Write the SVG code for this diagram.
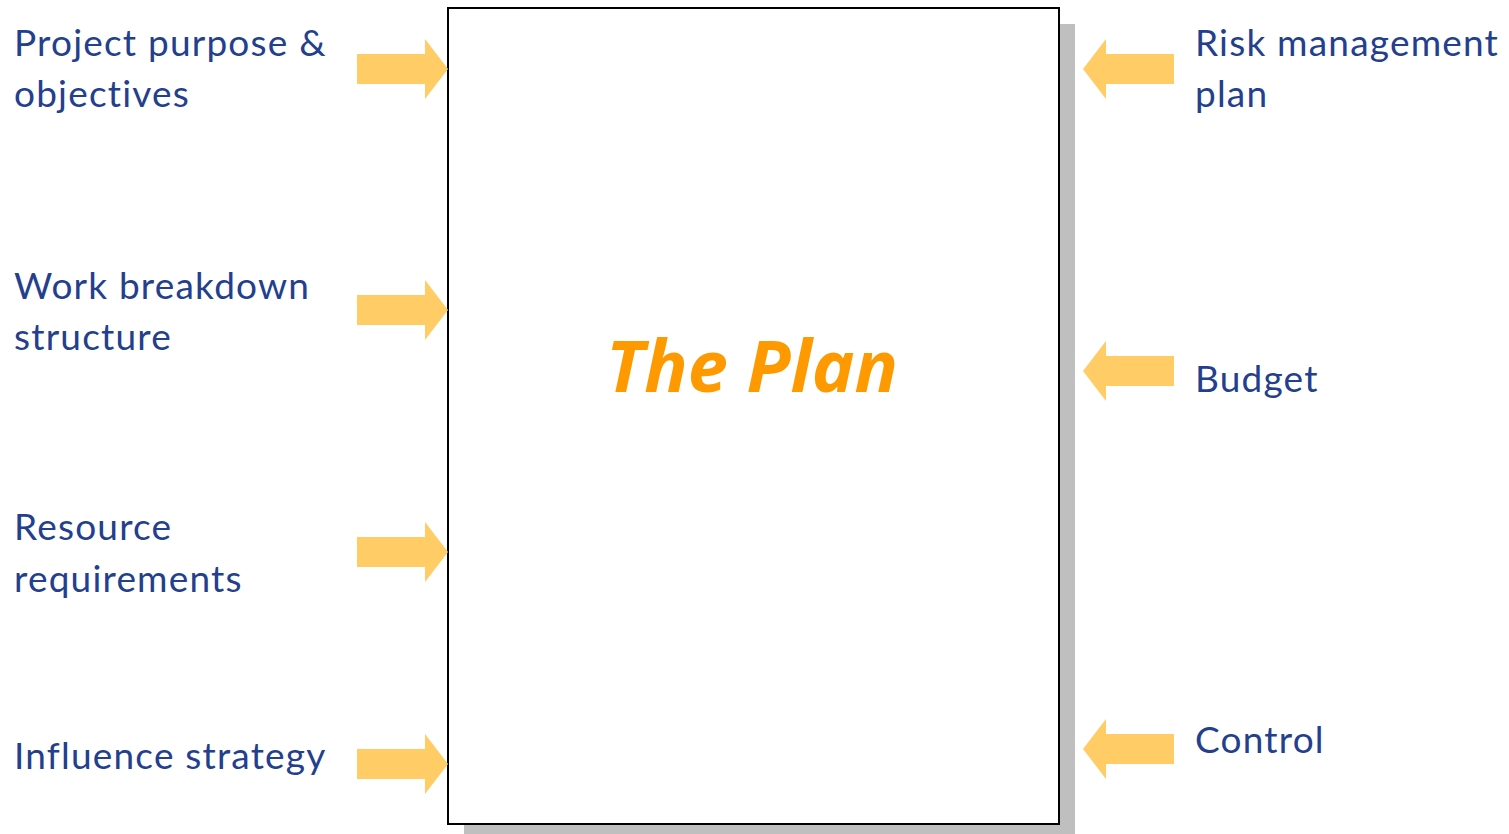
<svg xmlns="http://www.w3.org/2000/svg" width="1509" height="834" viewBox="0 0 1509 834">
<style>
.lbl{font-family:Lato,"Open Sans","Liberation Sans",sans-serif;font-size:37px;letter-spacing:1.2px;fill:#233F8D}
.title{font-family:"Open Sans","Liberation Sans",sans-serif;font-size:72px;font-weight:bold;font-style:italic;fill:#FF9900}
.arr{fill:#FFCC66}
</style>
<defs>
<polygon id="ra" points="0,-15 68,-15 68,-30 91,0 68,30 68,15 0,15"/>
<polygon id="la" points="0,0 23,-30 23,-15 91,-15 91,15 23,15 23,30"/>
</defs>
<rect width="1509" height="834" fill="#fff"/>
<g id="plan">
<rect x="464" y="24" width="611" height="816" fill="#BFBFBF"/>
<rect x="448" y="8" width="611" height="816" fill="#fff" stroke="#000" stroke-width="2"/>
<text class="title" x="752" y="392" text-anchor="middle">The Plan</text>
</g>
<g id="connectors">
<use href="#ra" class="arr" x="357" y="69"/>
<use href="#ra" class="arr" x="357" y="310"/>
<use href="#ra" class="arr" x="357" y="552"/>
<use href="#ra" class="arr" x="357" y="764"/>
<use href="#la" class="arr" x="1083" y="69"/>
<use href="#la" class="arr" x="1083" y="371"/>
<use href="#la" class="arr" x="1083" y="749"/>
</g>
<g id="n-purpose"><text class="lbl" x="14" y="56">Project purpose &amp;</text><text class="lbl" x="14" y="107">objectives</text></g>
<g id="n-wbs"><text class="lbl" x="14" y="299">Work breakdown</text><text class="lbl" x="14" y="350">structure</text></g>
<g id="n-resource"><text class="lbl" x="14" y="540">Resource</text><text class="lbl" x="14" y="592">requirements</text></g>
<g id="n-influence"><text class="lbl" x="14" y="769">Influence strategy</text></g>
<g id="n-risk"><text class="lbl" x="1195" y="56">Risk management</text><text class="lbl" x="1195" y="107">plan</text></g>
<g id="n-budget"><text class="lbl" x="1195" y="392">Budget</text></g>
<g id="n-control"><text class="lbl" x="1195" y="753">Control</text></g>
</svg>
